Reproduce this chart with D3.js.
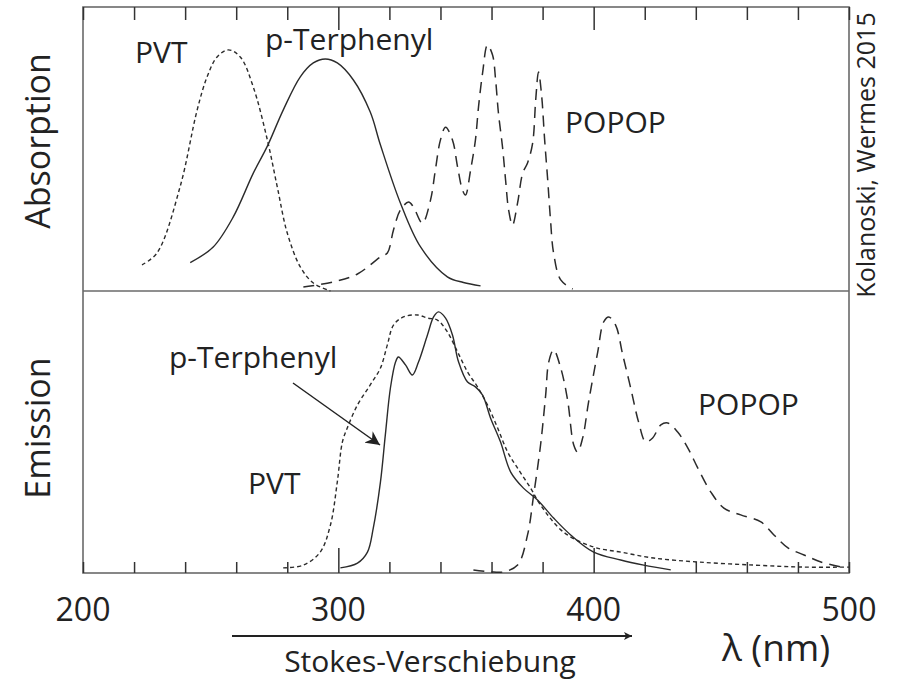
<!DOCTYPE html>
<html>
<head>
<meta charset="utf-8">
<script src="https://cdn.jsdelivr.net/npm/d3@7"></script>
<style>
  body { margin: 0; background: #fff; }
  svg text { font-family: "Open Sans", "Noto Sans", sans-serif; fill: #222; }
</style>
</head>
<body>
<div id="chart"></div>
<script>
// spectra, [wavelength nm, relative intensity]
const absPVT = [[223.1,0.092],[229.0,0.134],[238.0,0.366],[244.7,0.637],[248.6,0.754],[252.5,0.824],
  [256.9,0.849],[261.6,0.824],[266.7,0.718],[272.2,0.532],[276.1,0.366],[280.0,0.204],[285.1,0.085],
  [290.2,0.028],[296.9,0.0]];
const absTerphenyl = [[242.0,0.10],[251.0,0.155],[258.8,0.26],[266.7,0.415],[272.2,0.51],[278.4,0.637],
  [285.1,0.754],[290.2,0.803],[294.9,0.817],[299.6,0.803],[305.9,0.743],[312.5,0.63],[316.5,0.514],
  [324.3,0.31],[332.2,0.155],[342.7,0.05],[349.0,0.03],[355.7,0.018]];
const absPOPOP = [[286.3,0.014],[298.0,0.032],[307.5,0.060],[316.5,0.120],[319.2,0.134],[321.6,0.215],
  [324.3,0.285],[327.5,0.313],[329.4,0.296],[332.9,0.239],[336.1,0.320],[338.0,0.426],[340.0,0.532],
  [342.0,0.577],[344.7,0.532],[346.7,0.437],[348.6,0.356],[349.8,0.338],[351.8,0.426],[353.7,0.532],
  [354.9,0.648],[356.5,0.768],[358.4,0.866],[360.4,0.831],[361.6,0.743],[362.7,0.627],[364.3,0.507],
  [365.5,0.391],[366.7,0.285],[368.2,0.232],[370.2,0.310],[372.2,0.415],[374.1,0.451],[376.1,0.521],
  [377.3,0.673],[378.4,0.771],[379.6,0.690],[380.8,0.532],[382.0,0.391],[383.1,0.250],[384.3,0.134],
  [387.1,0.039],[391.8,0.007]];

const emPVT = [[278.4,0.018],[286.3,0.028],[292.9,0.074],[296.9,0.170],[299.6,0.323],[301.6,0.465],
  [303.5,0.514],[307.5,0.596],[312.5,0.667],[316.5,0.727],[319.2,0.809],[321.6,0.879],[325.5,0.908],
  [331.0,0.915],[334.9,0.904],[338.8,0.897],[342.7,0.855],[346.7,0.784],[350.6,0.713],[354.5,0.660],
  [358.4,0.596],[362.4,0.514],[366.3,0.429],[370.2,0.372],[375.3,0.301],[379.2,0.241],[388.2,0.145],
  [400.0,0.092],[410.6,0.074],[423.5,0.053],[440.8,0.039],[462.7,0.028],[482.4,0.021],[500.0,0.021]];
const emTerphenyl = [[300.8,0.018],[307.5,0.035],[311.4,0.074],[313.7,0.160],[316.5,0.323],[318.4,0.489],
  [320.4,0.656],[322.4,0.748],[323.5,0.766],[326.3,0.738],[329.0,0.702],[331.4,0.748],[334.9,0.844],
  [337.3,0.908],[339.2,0.926],[342.0,0.904],[344.7,0.844],[347.1,0.748],[350.6,0.677],[353.7,0.660],
  [356.5,0.631],[359.6,0.550],[363.5,0.465],[367.5,0.358],[372.5,0.301],[378.0,0.259],[384.3,0.195],
  [391.0,0.135],[400.0,0.074],[410.6,0.046],[419.6,0.028],[430.2,0.011]];
const emPOPOP = [[352.9,0.011],[359.6,0.004],[364.7,0.004],[370.2,0.028],[374.1,0.135],[376.5,0.277],
  [379.2,0.454],[381.2,0.631],[382.4,0.748],[384.3,0.791],[387.1,0.727],[389.8,0.613],[392.2,0.454],
  [393.7,0.429],[395.7,0.479],[398.0,0.606],[401.6,0.784],[403.9,0.890],[405.9,0.908],[408.6,0.879],
  [411.4,0.773],[414.5,0.656],[417.6,0.535],[420.4,0.465],[423.1,0.479],[426.3,0.525],[429.0,0.532],
  [432.9,0.500],[436.9,0.443],[440.8,0.372],[445.9,0.287],[451.0,0.230],[457.6,0.206],[465.5,0.181],
  [470.6,0.135],[476.1,0.089],[482.4,0.064],[489.0,0.039],[496.9,0.021]];

const tickValues = d3.range(200, 501, 20);
const tickLabels = [200, 300, 400, 500];
const longTicks = [300, 400];

const W = 897, H = 683;
const m = {left: 83, right: 849, top: 7, mid: 291, bottom: 573};

const svg = d3.select('#chart').append('svg')
  .attr('width', W)
  .attr('height', H);

const x = d3.scaleLinear().domain([200, 500]).range([m.left, m.right]);
const yAbs = d3.scaleLinear().domain([0, 1]).range([m.mid, m.top]);
const yEm = d3.scaleLinear().domain([0, 1]).range([m.bottom, m.mid]);

const lineCol = '#2b2b2b';
const frameCol = '#6a6a6a';

// frame and divider between the two panels
svg.append('rect')
  .attr('x', m.left).attr('y', m.top)
  .attr('width', m.right - m.left).attr('height', m.bottom - m.top)
  .attr('fill', 'none').attr('stroke', frameCol).attr('stroke-width', 1.6);
svg.append('line')
  .attr('x1', m.left).attr('x2', m.right).attr('y1', m.mid).attr('y2', m.mid)
  .attr('stroke', frameCol).attr('stroke-width', 1.6);

// ticks hang down from the top edge and stand up on the bottom edge
let topAxis = d3.axisBottom(x).tickValues(tickValues)
  .tickSize(0).tickFormat('');
svg.append('g').attr('transform', `translate(0,${m.top})`).call(topAxis)
  .call(g => g.select('.domain').remove())
  .selectAll('.tick line')
  .attr('y2', d => longTicks.includes(d) ? 23 : 13)
  .attr('stroke', '#333').attr('stroke-width', 1.5);

let bottomAxis = d3.axisTop(x).tickValues(tickValues)
  .tickSize(0).tickFormat('');
svg.append('g').attr('transform', `translate(0,${m.bottom})`).call(bottomAxis)
  .call(g => g.select('.domain').remove())
  .selectAll('.tick line')
  .attr('y2', d => longTicks.includes(d) ? -25 : -11)
  .attr('stroke', '#333').attr('stroke-width', 1.5);

svg.append('g').selectAll('text')
  .data(tickLabels)
  .join('text')
  .attr('x', d => x(d))
  .attr('y', 621)
  .attr('text-anchor', 'middle')
  .style('font-size', '32px')
  .text(d => d);

// spectra
const styles = {
  pvt: {dash: '4,3', width: 1.4},
  terphenyl: {dash: null, width: 1.4},
  popop: {dash: '11,7', width: 1.5},
};
function drawCurve(data, yscale, st) {
  let line = d3.line()
    .x(d => x(d[0]))
    .y(d => yscale(d[1]))
    .curve(d3.curveCatmullRom.alpha(0.5));
  svg.append('path')
    .datum(data)
    .attr('d', line)
    .attr('fill', 'none')
    .attr('stroke', lineCol)
    .attr('stroke-width', st.width)
    .attr('stroke-dasharray', st.dash);
}
drawCurve(absPVT, yAbs, styles.pvt);
drawCurve(absTerphenyl, yAbs, styles.terphenyl);
drawCurve(absPOPOP, yAbs, styles.popop);
drawCurve(emPVT, yEm, styles.pvt);
drawCurve(emTerphenyl, yEm, styles.terphenyl);
drawCurve(emPOPOP, yEm, styles.popop);

// curve labels
const labels = [
  {t: 'PVT', x: 135, y: 63},
  {t: 'p-Terphenyl', x: 265, y: 50},
  {t: 'POPOP', x: 565, y: 133},
  {t: 'p-Terphenyl', x: 169, y: 368},
  {t: 'PVT', x: 248, y: 494},
  {t: 'POPOP', x: 698, y: 415},
];
svg.append('g').selectAll('text')
  .data(labels)
  .join('text')
  .attr('x', d => d.x)
  .attr('y', d => d.y)
  .style('font-size', '30px')
  .text(d => d.t);

// arrowheads
const defs = svg.append('defs');
defs.append('marker')
  .attr('id', 'head')
  .attr('viewBox', '0 0 10 10')
  .attr('refX', 10).attr('refY', 5)
  .attr('markerWidth', 8).attr('markerHeight', 8)
  .attr('markerUnits', 'userSpaceOnUse')
  .attr('orient', 'auto')
  .append('path')
  .attr('d', 'M0,0L10,5L0,10L2.5,5Z')
  .attr('fill', '#222');
defs.append('marker')
  .attr('id', 'head2')
  .attr('viewBox', '0 0 10 10')
  .attr('refX', 10).attr('refY', 5)
  .attr('markerWidth', 14).attr('markerHeight', 14)
  .attr('markerUnits', 'userSpaceOnUse')
  .attr('orient', 'auto')
  .append('path')
  .attr('d', 'M0,0L10,5L0,10L3,5Z')
  .attr('fill', '#222');

svg.append('line')
  .attr('x1', 293).attr('y1', 383).attr('x2', 380).attr('y2', 445)
  .attr('stroke', '#222').attr('stroke-width', 1.5)
  .attr('marker-end', 'url(#head2)');

svg.append('line')
  .attr('x1', 232).attr('y1', 636).attr('x2', 632).attr('y2', 636)
  .attr('stroke', '#222').attr('stroke-width', 1.8)
  .attr('marker-end', 'url(#head)');

svg.append('text')
  .attr('x', 430).attr('y', 672)
  .attr('text-anchor', 'middle')
  .style('font-size', '30px')
  .text('Stokes-Verschiebung');

svg.append('text')
  .attr('x', 776).attr('y', 661)
  .attr('text-anchor', 'middle')
  .style('font-size', '37px')
  .text('λ (nm)');

// panel titles
svg.append('text')
  .attr('transform', 'translate(50,141) rotate(-90)')
  .attr('text-anchor', 'middle')
  .style('font-size', '34px')
  .text('Absorption');
svg.append('text')
  .attr('transform', 'translate(50,428) rotate(-90)')
  .attr('text-anchor', 'middle')
  .style('font-size', '34px')
  .text('Emission');

svg.append('text')
  .attr('transform', 'translate(875,155) rotate(-90)')
  .attr('text-anchor', 'middle')
  .style('font-size', '25px')
  .text('Kolanoski, Wermes 2015');
</script>
</body>
</html>
